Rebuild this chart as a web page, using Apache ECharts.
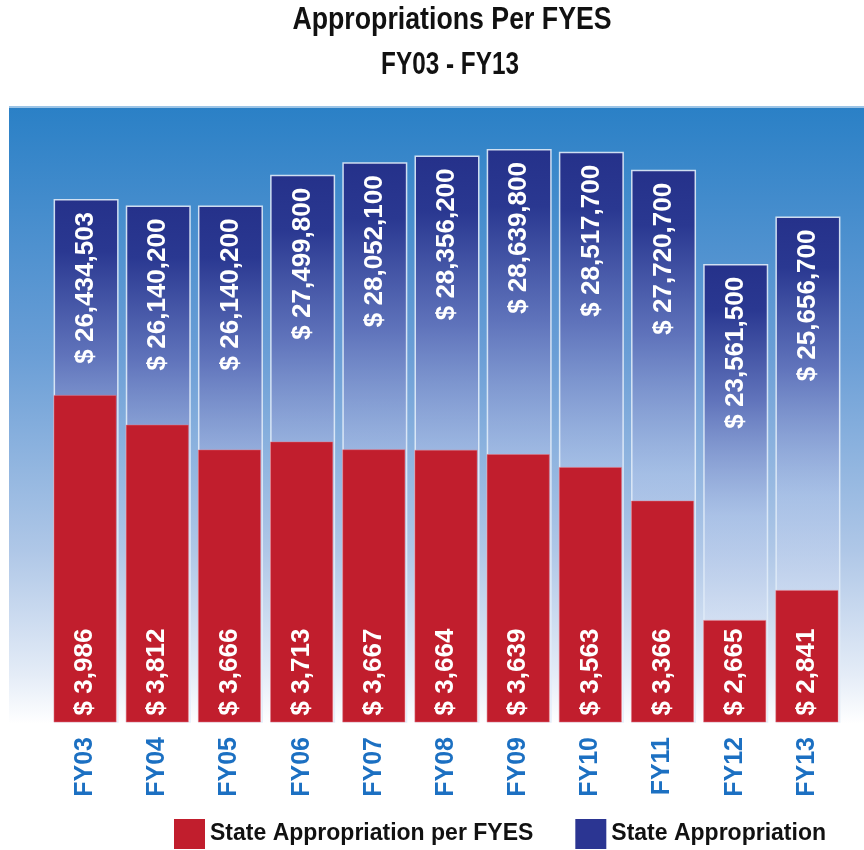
<!DOCTYPE html>
<html>
<head>
<meta charset="utf-8">
<script src="https://cdn.jsdelivr.net/npm/echarts@6/dist/echarts.min.js"></script>
<style>
  html, body { margin: 0; padding: 0; background: #ffffff; }
  #chart { width: 864px; height: 850px; }
</style>
</head>
<body>
<div id="chart"></div>
<script>
// Fiscal years shown on the category axis
const years = ['FY03', 'FY04', 'FY05', 'FY06', 'FY07', 'FY08', 'FY09', 'FY10', 'FY11', 'FY12', 'FY13'];

// Total state appropriation (dollars)
const stateAppropriation = [26434503, 26140200, 26140200, 27499800, 28052100, 28356200, 28639800, 28517700, 27720700, 23561500, 25656700];

// State appropriation per FYES (dollars)
const perFyes = [3986, 3812, 3666, 3713, 3667, 3664, 3639, 3563, 3366, 2665, 2841];

const seriesNames = ['State Appropriation per FYES', 'State Appropriation'];
const titleLines = ['Appropriations Per FYES', 'FY03 - FY13'];

const FONT = '"Liberation Sans", Arial, sans-serif';
const RED = '#c11e2d';
const NAVY = '#2b3592';

const fmt = v => '$ ' + v.toLocaleString('en-US');

const chart = echarts.init(document.getElementById('chart'), null, { renderer: 'canvas' });

chart.setOption({
  animation: false,
  backgroundColor: '#ffffff',
  graphic: [
    // sky-style backdrop behind the plot
    {
      type: 'rect',
      z: -10,
      shape: { x: 9, y: 106, width: 855, height: 618 },
      style: {
        fill: new echarts.graphic.LinearGradient(0, 0, 0, 1, [
          { offset: 0, color: '#2a80c6' },
          { offset: 0.4, color: '#6a9ed6' },
          { offset: 0.72, color: '#afc7e7' },
          { offset: 0.92, color: '#e4ecf7' },
          { offset: 1, color: '#ffffff' }
        ])
      }
    },
    {
      type: 'rect',
      z: -9,
      shape: { x: 9, y: 106, width: 855, height: 2 },
      style: { fill: '#9cc4e6' }
    },
    // two-line heading, narrowed horizontally to a condensed look
    {
      type: 'text',
      x: 452, y: 4, scaleX: 0.835,
      style: {
        text: titleLines[0], textAlign: 'center', textVerticalAlign: 'top',
        font: 'bold 32px ' + FONT, fill: '#111111'
      }
    },
    {
      type: 'text',
      x: 450, y: 49, scaleX: 0.76,
      style: {
        text: titleLines[1], textAlign: 'center', textVerticalAlign: 'top',
        font: 'bold 32px ' + FONT, fill: '#111111'
      }
    }
  ],
  legend: {
    left: 174, top: 819, padding: 0,
    itemWidth: 31, itemHeight: 30, itemGap: 42,
    icon: 'rect',
    data: [
      { name: seriesNames[0], itemStyle: { color: RED, borderWidth: 0 } },
      { name: seriesNames[1], itemStyle: { color: NAVY, borderWidth: 0 } }
    ],
    textStyle: { fontFamily: FONT, fontWeight: 'bold', fontSize: 23, color: '#111111' }
  },
  grid: { left: 49, right: 21, top: 107, bottom: 128 },
  xAxis: {
    type: 'category',
    data: years,
    axisLine: { show: false },
    axisTick: { show: false },
    axisLabel: {
      rotate: 90, margin: 15,
      fontFamily: FONT, fontWeight: 'bold', fontSize: 25, color: '#1c70c2'
    }
  },
  yAxis: [
    { type: 'value', min: 2066, max: 5677, show: false, splitLine: { show: false } },
    { type: 'value', min: 3300000, max: 30500000, show: false, splitLine: { show: false } }
  ],
  series: [
    {
      name: seriesNames[1],
      type: 'bar',
      yAxisIndex: 1,
      barWidth: 65,
      data: stateAppropriation,
      itemStyle: {
        color: new echarts.graphic.LinearGradient(0, 0, 0, 1, [
          { offset: 0, color: '#25318a' },
          { offset: 0.1, color: '#2a3891' },
          { offset: 0.3, color: 'rgba(95,112,185,0.92)' },
          { offset: 0.55, color: 'rgba(175,195,232,0.6)' },
          { offset: 1, color: 'rgba(255,255,255,0.35)' }
        ]),
        borderColor: 'rgba(225,236,248,0.9)',
        borderWidth: 1.5
      },
      label: {
        show: true,
        position: 'insideTop',
        distance: 13,
        rotate: 90,
        align: 'right',
        verticalAlign: 'middle',
        formatter: p => fmt(p.value),
        fontFamily: FONT, fontWeight: 'bold', fontSize: 26, color: '#ffffff'
      }
    },
    {
      name: seriesNames[0],
      type: 'bar',
      yAxisIndex: 0,
      barWidth: 63,
      barGap: '-100%',
      data: perFyes,
      itemStyle: { color: RED, borderColor: 'rgba(235,120,130,0.6)', borderWidth: 0.8 },
      label: {
        show: true,
        position: 'insideBottom',
        distance: 7,
        rotate: 90,
        align: 'left',
        verticalAlign: 'middle',
        formatter: p => fmt(p.value),
        fontFamily: FONT, fontWeight: 'bold', fontSize: 26, color: '#ffffff'
      }
    }
  ],
  color: [NAVY, RED]
});
</script>
</body>
</html>
